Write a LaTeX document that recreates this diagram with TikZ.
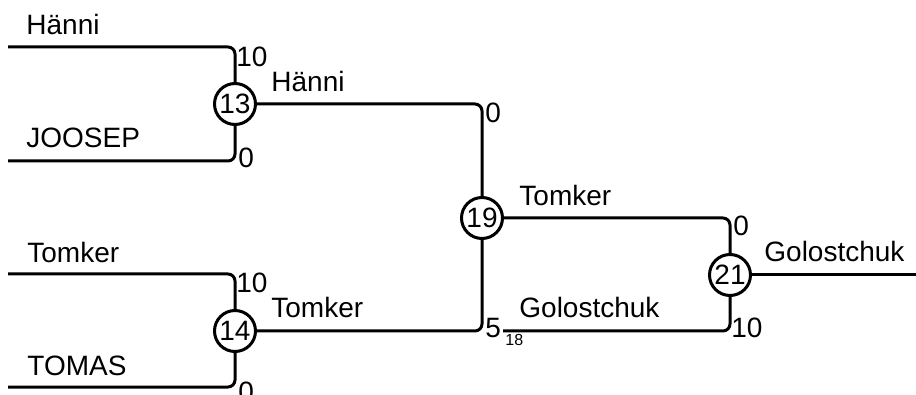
\documentclass[tikz,border=0pt]{standalone}
\usepackage{fontspec}
\setmainfont{Liberation Sans}
\usetikzlibrary{positioning}

\begin{document}
\begin{tikzpicture}[x=0.5pt, y=-0.5pt, font=\fontsize{14}{16}\selectfont]
	\tikzset{game/.style={draw, circle, line width=1.5pt, inner sep=0pt, minimum size=20.5pt},
		link/.style={draw, line width=1.5pt, rounded corners=3.5pt},
		player/.style={anchor=base west, inner sep=0pt},
		score/.style={anchor=base west, inner sep=0pt},
		}
	\useasboundingbox (0,0) rectangle (916,395);

	\node [game] (g13) at (235,104) {13};
	\node [game] (g14) at (235,331) {14};
	\node [game] (g19) at (482,218) {19};
	\node [game] (g21) at (730,275) {21};

	\coordinate (hanni) at (8,47);
	\coordinate (joosep) at (8,161);
	\coordinate (tomker) at (8,274);
	\coordinate (tomas) at (8,387);
	\coordinate (from18) at (503,331);
	\coordinate (champ) at (916,275);

	\path[link] (hanni) -| (g13);
	\path[link] (joosep) -| (g13);
	\path[link] (tomker) -| (g14);
	\path[link] (tomas) -| (g14);
	\path[link] (g13) -| (g19);
	\path[link] (g14) -| (g19);
	\path[link] (g19) -| (g21);
	\path[link] (from18) -| (g21);
	\path[link] (g21) -- (champ);

	\node [player] at (26,35) {Hänni};
	\node [player] at (26,148) {JOOSEP};
	\node [player] at (27,263) {Tomker};
	\node [player] at (27,375) {TOMAS};
	\node [player] at (271,92) {Hänni};
	\node [player] at (271,318) {Tomker};
	\node [player] at (519,206) {Tomker};
	\node [player] at (519,318) {Golostchuk};
	\node [player] at (764,262) {Golostchuk};

	\node [score] at (236,67) {10};
	\node [score] at (238,168) {0};
	\node [score] at (236,293) {10};
	\node [score] at (238,401) {0};
	\node [score] at (485,123) {0};
	\node [score] (five) at (485,338) {5};
	\node [score, font=\fontsize{8}{9}\selectfont] at (505,346) {18};
	\node [score] at (733,236) {0};
	\node [score] at (731,338) {10};

\end{tikzpicture}
\end{document}
